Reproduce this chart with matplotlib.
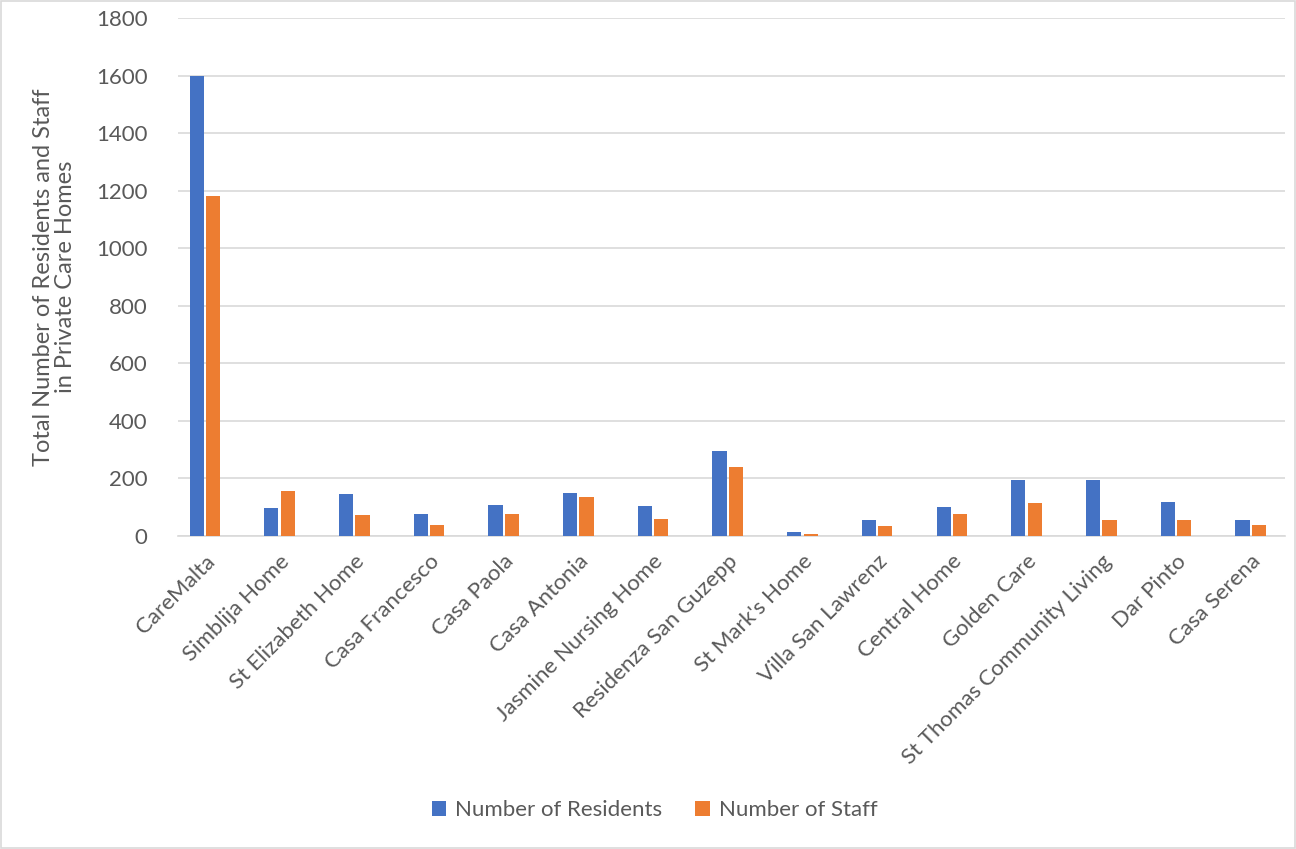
import matplotlib
matplotlib.use("Agg")
import matplotlib.pyplot as plt
import numpy as np
from matplotlib.patches import Rectangle

plt.rcParams["font.family"] = ["Lato", "DejaVu Sans"]

homes = ["CareMalta", "Simblija Home", "St Elizabeth Home", "Casa Francesco",
         "Casa Paola", "Casa Antonia", "Jasmine Nursing Home",
         "Residenza San Guzepp", "St Mark's Home", "Villa San Lawrenz",
         "Central Home", "Golden Care", "St Thomas Community Living",
         "Dar Pinto", "Casa Serena"]
residents = [1600, 96, 145, 77, 108, 149, 105, 294, 13, 56, 102, 194, 194, 119, 56]
staff = [1183, 157, 73, 38, 76, 135, 59, 241, 7, 36, 77, 115, 56, 55, 38]

blue = "#4472C4"
orange = "#ED7D31"
grey = "#595959"

fig = plt.figure(figsize=(12.96, 8.49), dpi=100)
ax = fig.add_axes([0.1373, 0.3687, 0.8542, 0.6101])

x = np.arange(len(homes))
w = 0.19
ax.bar(x - 0.11, residents, w, color=blue, label="Number of Residents", zorder=3)
ax.bar(x + 0.11, staff, w, color=orange, label="Number of Staff", zorder=3)

ax.set_xlim(-0.36, 14.46)
ax.set_ylim(0, 1800)
ax.set_yticks(range(0, 1801, 200))
ax.yaxis.grid(True, color="#d9d9d9", linewidth=1.2, zorder=0)
ax.tick_params(axis="y", length=0, labelsize=16, labelcolor=grey, pad=22)
ax.tick_params(axis="x", length=0, labelsize=16, labelcolor=grey, pad=11)
ax.set_xticks(x)
ax.set_xticklabels(homes, rotation=45, ha="right", rotation_mode="anchor")
for s in ["top", "right", "left"]:
    ax.spines[s].set_visible(False)
ax.spines["bottom"].set_color("#d9d9d9")
ax.spines["bottom"].set_linewidth(1.2)

ax.set_ylabel("Total Number of Residents and Staff\nin Private Care Homes",
              fontsize=17, color=grey, labelpad=14, linespacing=1.1)

fig.legend(loc="center", bbox_to_anchor=(0.505, 0.046), ncol=2, frameon=False,
           fontsize=16, labelcolor=grey, handlelength=0.65, handleheight=0.65,
           columnspacing=1.5, handletextpad=0.4)

fig.patches.append(Rectangle((0.001, 0.001), 0.998, 0.998, transform=fig.transFigure,
                             fill=False, edgecolor="#d9d9d9", linewidth=1.2))

fig.savefig("out.png", dpi=100)
